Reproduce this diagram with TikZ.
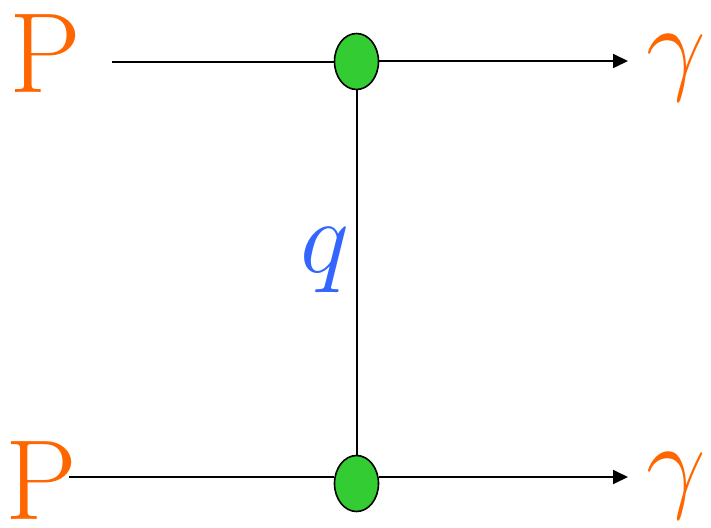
\RequirePackage{fix-cm}
\documentclass[tikz,border=0pt]{standalone}
\usepackage{xcolor}
\usetikzlibrary{arrows.meta}
\usetikzlibrary{shapes.geometric}
\definecolor{porange}{RGB}{255,102,0}
\definecolor{qblue}{RGB}{51,102,255}
\definecolor{vgreen}{RGB}{51,204,51}
\begin{document}
\begin{tikzpicture}[x=1pt,y=-1pt,
        lbl/.style={inner sep=0pt,font=\fontsize{114}{114}\selectfont},
        vtx/.style={ellipse,draw,line width=1.6pt,fill=vgreen,minimum width=44pt,minimum height=56pt,inner sep=0pt},
        outarr/.style={-{Triangle[length=15pt,width=14pt]},line width=1.8pt}]
        \useasboundingbox (0,0) rectangle (711,527);
        \node[lbl,porange] (P1) at (45.5,54) {P};
        \node[lbl,porange] (P2) at (41,481) {P};
        \node[lbl,porange,font=\fontsize{106}{106}\selectfont] (g1) at (676,67.5) {$\gamma$};
        \node[lbl,porange,font=\fontsize{106}{106}\selectfont] (g2) at (676,485.5) {$\gamma$};
        \node[lbl,qblue,font=\fontsize{104}{104}\selectfont] (q) at (324.5,260.5) {$q$};
        \coordinate (inA) at (112,62);
        \coordinate (inB) at (69,477);
        \coordinate (outA) at (628,61);
        \coordinate (outB) at (628,477);
        \node[vtx] (vA) at (356.5,61.5) {};
        \node[vtx] (vB) at (356.5,483.5) {};
        \draw[line width=1.5pt] (inA) -- (vA.west |- inA);
        \draw[line width=1.5pt] (inB) -- (vB.west |- inB);
        \draw[line width=2pt] (vA) -- (vB);
        \draw[outarr] (vA.east |- outA) -- (outA);
        \draw[outarr] (vB.east |- outB) -- (outB);
    \end{tikzpicture}
\end{document}
